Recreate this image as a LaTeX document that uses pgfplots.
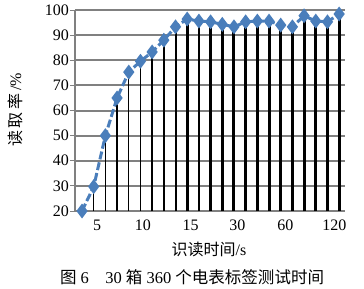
\documentclass[border=0pt]{standalone}
\usepackage{fontspec}
\setmainfont{Liberation Serif}
\newfontfamily\cjk{Noto Sans CJK SC}
\usepackage{pgfplots}
\pgfplotsset{compat=1.18}
\definecolor{gridgray}{RGB}{128,128,128}
\definecolor{ptblue}{RGB}{74,126,187}
\begin{document}
\begin{tikzpicture}
\begin{axis}[
 at={(0,0)}, anchor=south west,
 scale only axis, width=270pt, height=201pt,
 xmin=-0.6, xmax=22.5, ymin=20, ymax=100,
 axis lines=left, axis line style={gridgray, line width=1.8pt, -},
 ytick={20,30,...,100},
 xtick={1.3,5.2,9.3,13.3,17.4,21.6},
 xticklabels={5,10,15,30,60,120},
 x tick style={draw=none},
 y tick style={gridgray, line width=1pt},
 tick align=outside, major tick length=5pt,
 ymajorgrids, grid style={gridgray, line width=2pt},
 tick label style={font=\fontsize{16}{16}\selectfont},
 y tick label style={inner sep=1pt},
 /pgf/number format/assume math mode=true,
 clip mode=individual,
]
\addplot[ycomb, black, line width=0.8pt] coordinates {(0,20)(1,30)(2,50)};
\addplot[ycomb, black, line width=1.3pt] coordinates {(3,65)(4,75.3)(5,79.6)};
\addplot[ycomb, black, line width=2pt] coordinates {(6,83.3)(7,88)(8,93.3)};
\addplot[ycomb, black, line width=2.7pt] coordinates {(9,96.4)(10,95.6)(11,95.3)(12,94.3)};
\addplot[ycomb, black, line width=3pt] coordinates {(13,93.3)(14,95.3)(15,95.6)(16,95.6)(17,94)(18,93.3)(19,97.7)(20,95.6)(21,95.3)(22,98.4)};
\addplot[ptblue, line width=3pt, dash pattern=on 8pt off 3pt, mark=diamond*, mark size=5pt, mark options={solid, ptblue}] coordinates {
(0,20)(1,29.7)(2,50)(3,65)(4,75.3)(5,79.6)(6,83.3)(7,88)(8,93.3)(9,96.4)(10,95.6)(11,95.3)(12,94.3)(13,93.3)(14,95.3)(15,95.6)(16,95.6)(17,94)(18,93.3)(19,97.7)(20,95.6)(21,95.3)(22,98.4)};
\end{axis}
\node[rotate=90, font=\fontsize{16}{16}\selectfont] at (-60pt,101pt) {{\cjk 读\,取\,率}\,/\%};
\node[font=\fontsize{16}{16}\selectfont] at (134pt,-38pt) {{\cjk 识读时间}/s};
\node[font=\fontsize{16.5}{16.5}\selectfont] at (117pt,-66pt) {{\cjk 图} 6\quad 30 {\cjk 箱} 360 {\cjk 个电表标签测试时间}};
\pgfresetboundingbox
\useasboundingbox (-75pt,-78pt) rectangle (289pt,211pt);
\end{tikzpicture}
\end{document}
